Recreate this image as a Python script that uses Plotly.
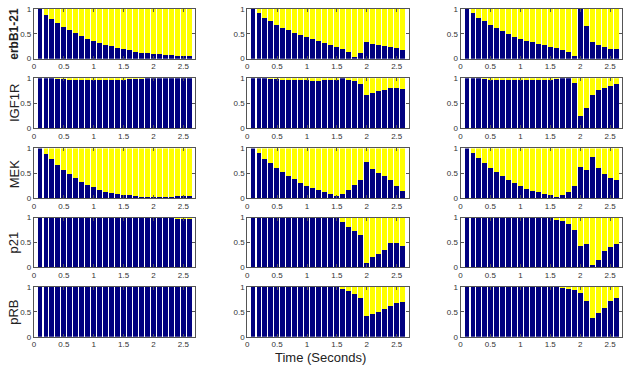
import plotly.graph_objects as go

W, H = 628, 370

times = [0.1, 0.2, 0.3, 0.4, 0.5, 0.6, 0.7, 0.8, 0.9, 1.0, 1.1, 1.2, 1.3,
         1.4, 1.5, 1.6, 1.7, 1.8, 1.9, 2.0, 2.1, 2.2, 2.3, 2.4, 2.5, 2.6]

row_labels = ["erbB1-21", "IGF1R", "MEK", "p21", "pRB"]

# navy (lower) fraction of each bar; yellow fills the rest to 1
erbB_c1 = [1.0, 0.88, 0.80, 0.72, 0.64, 0.57, 0.52, 0.46, 0.40, 0.36, 0.32, 0.28, 0.25,
           0.22, 0.20, 0.18, 0.14, 0.12, 0.11, 0.10, 0.09, 0.08, 0.07, 0.06, 0.05, 0.05]
erbB_c2 = [1.0, 0.91, 0.82, 0.75, 0.68, 0.62, 0.57, 0.52, 0.48, 0.44, 0.40, 0.36, 0.32,
           0.28, 0.24, 0.20, 0.13, 0.03, 0.11, 0.33, 0.30, 0.28, 0.26, 0.24, 0.22, 0.17]
erbB_c3 = [1.0, 0.91, 0.82, 0.75, 0.68, 0.61, 0.55, 0.49, 0.44, 0.40, 0.36, 0.33, 0.30,
           0.27, 0.24, 0.21, 0.18, 0.13, 0.05, 1.0, 0.66, 0.33, 0.27, 0.23, 0.20, 0.19]

igf_c1 = [1, 1, 1, 0.98, 0.98, 0.97, 0.97, 0.96, 0.96, 0.96, 0.96, 0.96, 0.97,
          0.97, 0.97, 0.98, 0.98, 0.99, 1, 1, 1, 1, 1, 1, 1, 1]
igf_c2 = [1, 1, 1, 0.99, 0.98, 0.96, 0.96, 0.95, 0.95, 0.95, 0.93, 0.94, 0.95,
          0.95, 0.96, 1.0, 0.97, 0.94, 0.87, 0.65, 0.70, 0.73, 0.76, 0.79, 0.80, 0.78]
igf_c3 = [1, 1, 1, 0.98, 0.97, 0.96, 0.96, 0.95, 0.95, 0.95, 0.95, 0.95, 0.95,
          0.95, 0.96, 0.98, 1, 1, 0.89, 0.23, 0.40, 0.66, 0.75, 0.80, 0.84, 0.87]

mek_c1 = [1.0, 0.88, 0.77, 0.66, 0.56, 0.47, 0.39, 0.32, 0.26, 0.21, 0.16, 0.12, 0.10,
          0.08, 0.06, 0.05, 0.03, 0.02, 0.02, 0.02, 0.02, 0.02, 0.02, 0.03, 0.04, 0.04]
mek_c2 = [1.0, 0.89, 0.78, 0.69, 0.60, 0.51, 0.43, 0.37, 0.30, 0.24, 0.19, 0.15, 0.12,
          0.08, 0.03, 0.08, 0.16, 0.26, 0.36, 0.71, 0.58, 0.50, 0.44, 0.35, 0.24, 0.14]
mek_c3 = [1.0, 0.90, 0.79, 0.69, 0.60, 0.51, 0.43, 0.35, 0.29, 0.23, 0.18, 0.14, 0.11,
          0.08, 0.05, 0.02, 0.05, 0.12, 0.24, 0.61, 0.55, 0.82, 0.60, 0.47, 0.40, 0.36]

p21_c1 = [1, 1, 1, 1, 1, 1, 1, 1, 1, 1, 1, 1, 1,
          1, 1, 1, 1, 1, 1, 1, 1, 1, 1, 0.98, 0.98, 0.98]
p21_c2 = [1, 1, 1, 1, 1, 1, 1, 1, 1, 1, 1, 1, 1,
          1, 1, 0.92, 0.82, 0.74, 0.65, 0.10, 0.22, 0.28, 0.36, 0.50, 0.50, 0.44]
p21_c3 = [1, 1, 1, 1, 1, 1, 1, 1, 1, 1, 1, 1, 1,
          1, 1, 0.96, 0.93, 0.88, 0.76, 0.43, 0.48, 0.05, 0.15, 0.33, 0.42, 0.48]

prb_c1 = [1, 1, 1, 1, 1, 1, 1, 1, 1, 1, 1, 1, 1,
          1, 1, 1, 1, 1, 1, 1, 1, 1, 1, 1, 1, 1]
prb_c2 = [1, 1, 1, 1, 1, 1, 1, 1, 1, 1, 1, 1, 1,
          1, 1, 0.97, 0.92, 0.85, 0.78, 0.42, 0.45, 0.50, 0.55, 0.62, 0.67, 0.70]
prb_c3 = [1, 1, 1, 1, 1, 1, 1, 1, 1, 1, 1, 1, 1,
          1, 1, 1, 0.99, 0.97, 0.94, 0.88, 0.72, 0.38, 0.48, 0.58, 0.72, 0.78]

grid = [
    [erbB_c1, erbB_c2, erbB_c3],
    [igf_c1, igf_c2, igf_c3],
    [mek_c1, mek_c2, mek_c3],
    [p21_c1, p21_c2, p21_c3],
    [prb_c1, prb_c2, prb_c3],
]

x_ticks = [0, 0.5, 1, 1.5, 2, 2.5]
x_ticktext = ["0", "0.5", "1", "1.5", "2", "2.5"]
y_ticks = [0, 0.5, 1]
y_ticktext = ["0", "0.5", "1"]

NAVY = "#00007f"
YELLOW = "#ffff00"

col_left_px = [32, 246, 460]
col_w_px = 162
row_top_px = [5, 76, 148, 219, 290]
row_h_px = 51

fig = go.Figure()
layout = {}
annotations = []
idx = 0
for r in range(5):
    for c in range(3):
        idx += 1
        xa = "x" if idx == 1 else f"x{idx}"
        ya = "y" if idx == 1 else f"y{idx}"
        navy = grid[r][c]
        yellow = [round(1 - v, 3) for v in navy]
        fig.add_trace(go.Bar(x=times, y=navy, width=0.082, marker=dict(color=NAVY, line=dict(width=0)),
                             xaxis=xa, yaxis=ya, showlegend=False, hoverinfo="skip"))
        fig.add_trace(go.Bar(x=times, y=yellow, width=0.082, marker=dict(color=YELLOW, line=dict(width=0)),
                             xaxis=xa, yaxis=ya, showlegend=False, hoverinfo="skip"))
        x0 = col_left_px[c] / W
        x1 = (col_left_px[c] + col_w_px) / W
        y1 = 1 - row_top_px[r] / H
        y0 = 1 - (row_top_px[r] + row_h_px) / H
        axcommon = dict(showgrid=False, zeroline=False, showline=True, mirror="ticks",
                        linecolor="#555555", linewidth=1, ticks="inside", ticklen=3,
                        tickcolor="#555555", tickfont=dict(size=8, color="#333333",
                                                           family="Liberation Sans, Arial"))
        layout["xaxis" if idx == 1 else f"xaxis{idx}"] = dict(
            domain=[x0, x1], range=[0, 2.7], anchor=ya, tickvals=x_ticks,
            ticktext=x_ticktext, **axcommon)
        layout["yaxis" if idx == 1 else f"yaxis{idx}"] = dict(
            domain=[y0, y1], range=[0, 1], anchor=xa, tickvals=y_ticks,
            ticktext=y_ticktext, **axcommon)
    yc = 1 - (row_top_px[r] + row_h_px / 2) / H
    lbl = f"<b>{row_labels[r]}</b>" if r == 0 else row_labels[r]
    annotations.append(dict(text=lbl, x=12 / W, y=yc, xref="paper", yref="paper",
                            textangle=-90, showarrow=False, xanchor="center", yanchor="middle",
                            font=dict(size=12 if r == 0 else 13, color="#222222",
                                      family="Liberation Sans, Arial")))

annotations.append(dict(text="Time (Seconds)", x=320 / W, y=1 - 362 / H, xref="paper", yref="paper",
                        showarrow=False, xanchor="center", yanchor="middle",
                        font=dict(size=13, color="#222222", family="Liberation Sans, Arial")))

fig.update_layout(width=W, height=H, margin=dict(l=0, r=0, t=0, b=0),
                  barmode="stack", bargap=0, plot_bgcolor="white", paper_bgcolor="white",
                  annotations=annotations, **layout)

fig.write_html("out.html")
